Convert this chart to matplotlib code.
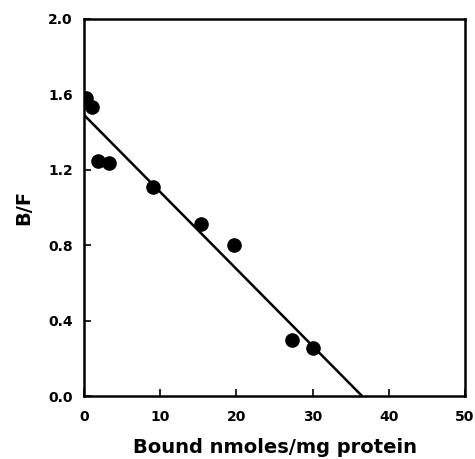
import numpy as np
import matplotlib
matplotlib.use("Agg")
import matplotlib.pyplot as plt

# Scatchard plot data
bound = [0.3, 1.05, 1.85, 3.3, 9.1, 15.3, 19.7, 27.3, 30.0]
bf = [1.58, 1.535, 1.245, 1.235, 1.11, 0.91, 0.80, 0.296, 0.256]

# fitted line: intercept and x-intercept
fit_x = [0.0, 36.5]
fit_y = [1.49, 0.0]

fig = plt.figure(figsize=(4.75, 4.59), dpi=100)
ax = fig.add_axes([0.177, 0.137, 0.802, 0.822])

ax.plot(fit_x, fit_y, color="black", linewidth=1.8, solid_capstyle="butt")
ax.plot(bound, bf, "o", color="black", markersize=9.5)

ax.set_xlim(0, 50)
ax.set_ylim(0, 2.0)
ax.set_xticks([0, 10, 20, 30, 40, 50])
ax.set_yticks([0.0, 0.4, 0.8, 1.2, 1.6, 2.0])
ax.set_yticklabels(["0.0", "0.4", "0.8", "1.2", "1.6", "2.0"])

for s in ax.spines.values():
    s.set_linewidth(1.8)

ax.tick_params(direction="in", length=5, width=1.2, labelsize=10, pad=8)
ax.tick_params(axis="x", pad=10)
for lab in ax.get_xticklabels() + ax.get_yticklabels():
    lab.set_fontweight("bold")

ax.set_xlabel("Bound nmoles/mg protein", fontsize=14, fontweight="semibold", labelpad=10)
ax.set_ylabel("B/F", fontsize=14, fontweight="semibold", labelpad=11)

fig.savefig("out.png", dpi=100)
